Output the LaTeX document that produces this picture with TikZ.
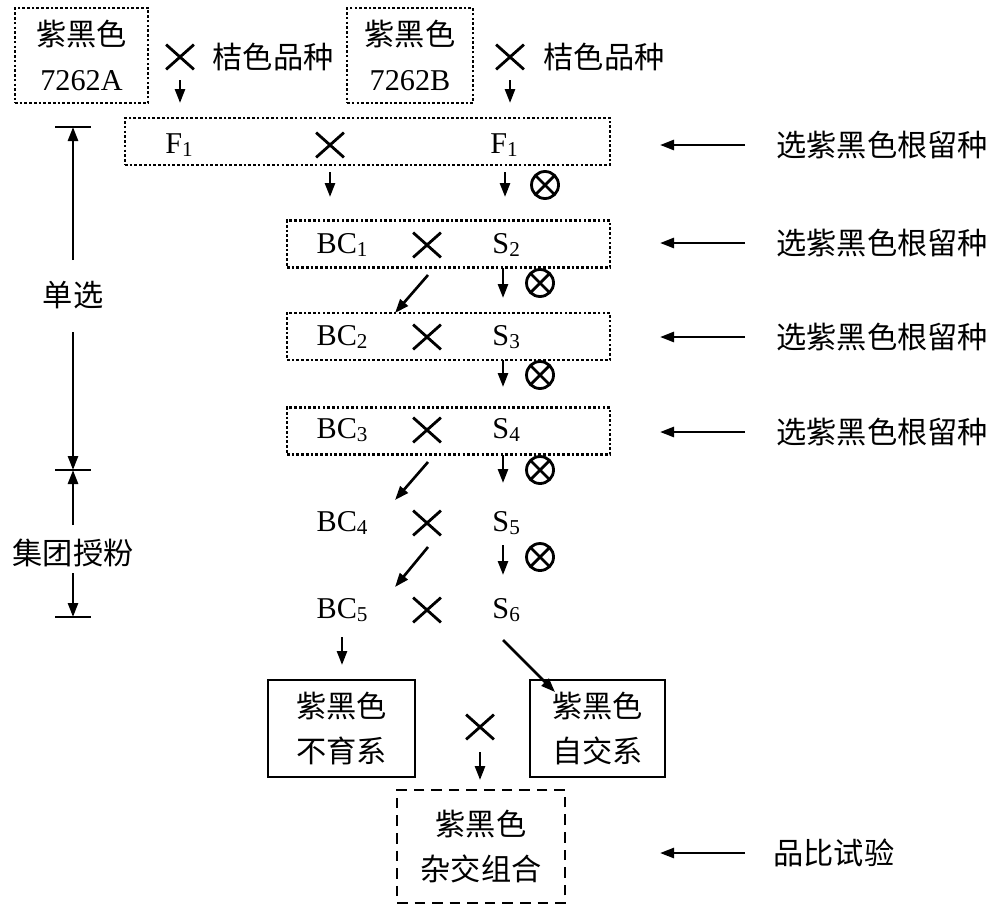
\documentclass[tikz,border=0pt]{standalone}
\usepackage{fontspec}
\setmainfont{Liberation Serif}
\newfontfamily\cjk{Noto Sans CJK SC}
\usetikzlibrary{arrows.meta,shapes.misc}
\newcommand{\hanzi}[1]{{\cjk\fontsize{8.6}{12.5}\selectfont #1}}
\tikzset{
  dotbox/.style={draw, line width=0.75pt, dash pattern=on 0.75pt off 0.6pt},
  solidbox/.style={draw, line width=0.8pt, align=center},
  dashbox/.style={draw, line width=0.8pt, dash pattern=on 3pt off 2pt, align=center},
  crossmark/.style={cross out, draw, line width=0.8pt, minimum width=0.25cm, minimum height=0.22cm, inner sep=0pt},
  selfmark/.style={circle, draw, line width=0.8pt, minimum size=0.27cm, inner sep=0pt,
    path picture={\draw[line width=0.8pt] (path picture bounding box.south west) -- (path picture bounding box.north east)
      (path picture bounding box.north west) -- (path picture bounding box.south east);}},
  arr/.style={->, line width=0.75pt},
  bar/.style={line width=0.8pt}
}
\begin{document}
\begin{tikzpicture}[x=1cm,y=-1cm,>={Triangle[length=0.14cm,width=0.1cm]},font=\fontsize{8.6}{12.8}\selectfont]
\useasboundingbox (0,0) rectangle (10,9.15);
\node[dotbox,minimum width=1.33cm,minimum height=0.95cm,align=center] (pA) at (0.815,0.555) {\hanzi{紫黑色}\\7262A};
\node[crossmark] (xA) at (1.80,0.57) {};
\node (cA) at (2.73,0.57) {\hanzi{桔色品种}};
\node[dotbox,minimum width=1.26cm,minimum height=0.95cm,align=center] (pB) at (4.10,0.555) {\hanzi{紫黑色}\\7262B};
\node[crossmark] (xB) at (5.10,0.57) {};
\node (cB) at (6.04,0.57) {\hanzi{桔色品种}};
\draw[arr] (xA) ++(0,0.23) -- ++(0,0.23);
\draw[arr] (xB) ++(0,0.23) -- ++(0,0.23);

\node[dotbox,minimum width=4.85cm,minimum height=0.47cm] (rowF) at (3.675,1.415) {};
\node (fA) at (1.80,1.45) {F\textsubscript{1}};
\node[crossmark] (xF) at (3.30,1.45) {};
\node (fB) at (5.05,1.45) {F\textsubscript{1}};
\draw[arr] (xF) ++(0,0.27) -- ++(0,0.25);
\draw[arr] (fB) ++(0,0.27) -- ++(0,0.25);
\node[selfmark] (oF) at (5.45,1.85) {};

\node[dotbox,minimum width=3.23cm,minimum height=0.47cm] (row1) at (4.485,2.44) {};
\node (bc1) at (3.43,2.45) {BC\textsubscript{1}};
\node[crossmark] (x1) at (4.27,2.45) {};
\node (s2) at (5.07,2.45) {S\textsubscript{2}};
\draw[arr] (s2) ++(-0.04,0.23) -- ++(0,0.30);
\node[selfmark] (o2) at (5.40,2.83) {};
\draw[arr] (x1) ++(0.01,0.30) -- ++(-0.33,0.38);

\node[dotbox,minimum width=3.23cm,minimum height=0.47cm] (row2) at (4.485,3.365) {};
\node (bc2) at (3.43,3.37) {BC\textsubscript{2}};
\node[crossmark] (x2) at (4.27,3.37) {};
\node (s3) at (5.07,3.37) {S\textsubscript{3}};
\draw[arr] (s3) ++(-0.04,0.23) -- ++(0,0.27);
\node[selfmark] (o3) at (5.40,3.75) {};

\node[dotbox,minimum width=3.23cm,minimum height=0.47cm] (row3) at (4.485,4.31) {};
\node (bc3) at (3.43,4.30) {BC\textsubscript{3}};
\node[crossmark] (x3) at (4.27,4.30) {};
\node (s4) at (5.07,4.30) {S\textsubscript{4}};
\draw[arr] (s4) ++(-0.04,0.25) -- ++(0,0.28);
\node[selfmark] (o4) at (5.40,4.70) {};
\draw[arr] (x3) ++(0.01,0.32) -- ++(-0.33,0.38);

\node (bc4) at (3.43,5.23) {BC\textsubscript{4}};
\node[crossmark] (x4) at (4.27,5.23) {};
\node (s5) at (5.07,5.23) {S\textsubscript{5}};
\draw[arr] (s5) ++(-0.04,0.22) -- ++(0,0.30);
\node[selfmark] (o5) at (5.40,5.57) {};
\draw[arr] (x4) ++(0.01,0.24) -- ++(-0.33,0.40);

\node (bc5) at (3.43,6.10) {BC\textsubscript{5}};
\node[crossmark] (x5) at (4.27,6.10) {};
\node (s6) at (5.07,6.10) {S\textsubscript{6}};
\draw[arr] (bc5) ++(-0.01,0.27) -- ++(0,0.28);
\draw[arr] (s6) ++(-0.04,0.30) -- ++(0.52,0.52);

\node[solidbox,minimum width=1.47cm,minimum height=0.97cm] (ms) at (3.415,7.285) {\hanzi{紫黑色}\\\hanzi{不育系}};
\node[solidbox,minimum width=1.35cm,minimum height=0.97cm] (sl) at (5.975,7.285) {\hanzi{紫黑色}\\\hanzi{自交系}};
\node[crossmark] (x6) at (4.80,7.27) {};
\draw[arr] (x6) ++(0,0.25) -- ++(0,0.28);
\node[dashbox,minimum width=1.68cm,minimum height=1.13cm] (hy) at (4.81,8.465) {\hanzi{紫黑色}\\\hanzi{杂交组合}};

\node[anchor=west] (r0) at (7.64,1.45) {\hanzi{选紫黑色根留种}};
\node[anchor=west] (r1) at (7.64,2.43) {\hanzi{选紫黑色根留种}};
\node[anchor=west] (r2) at (7.64,3.37) {\hanzi{选紫黑色根留种}};
\node[anchor=west] (r3) at (7.64,4.32) {\hanzi{选紫黑色根留种}};
\node[anchor=west] (r4) at (7.61,8.53) {\hanzi{品比试验}};
\draw[arr] (r0.west) ++(-0.19,0) -- ++(-0.85,0);
\draw[arr] (r1.west) ++(-0.19,0) -- ++(-0.85,0);
\draw[arr] (r2.west) ++(-0.19,0) -- ++(-0.85,0);
\draw[arr] (r3.west) ++(-0.19,0) -- ++(-0.85,0);
\draw[arr] (r4.west) ++(-0.16,0) -- ++(-0.85,0);

\coordinate (t1) at (0.73,1.27);
\coordinate (t2) at (0.73,4.70);
\coordinate (t3) at (0.73,6.17);
\node (d1) at (0.73,2.95) {\hanzi{单选}};
\node (d2) at (0.73,5.53) {\hanzi{集团授粉}};
\draw[arr,shorten <=0.35cm] (d1.center) -- (t1);
\draw[arr,shorten <=0.37cm] (d1.center) -- (t2);
\draw[arr,shorten <=0.28cm] (d2.center) -- (t2);
\draw[arr,shorten <=0.20cm] (d2.center) -- (t3);
\draw[bar] ([xshift=-0.18cm]t1) -- ([xshift=0.18cm]t1);
\draw[bar] ([xshift=-0.18cm]t2) -- ([xshift=0.18cm]t2);
\draw[bar] ([xshift=-0.18cm]t3) -- ([xshift=0.18cm]t3);
\end{tikzpicture}
\end{document}
